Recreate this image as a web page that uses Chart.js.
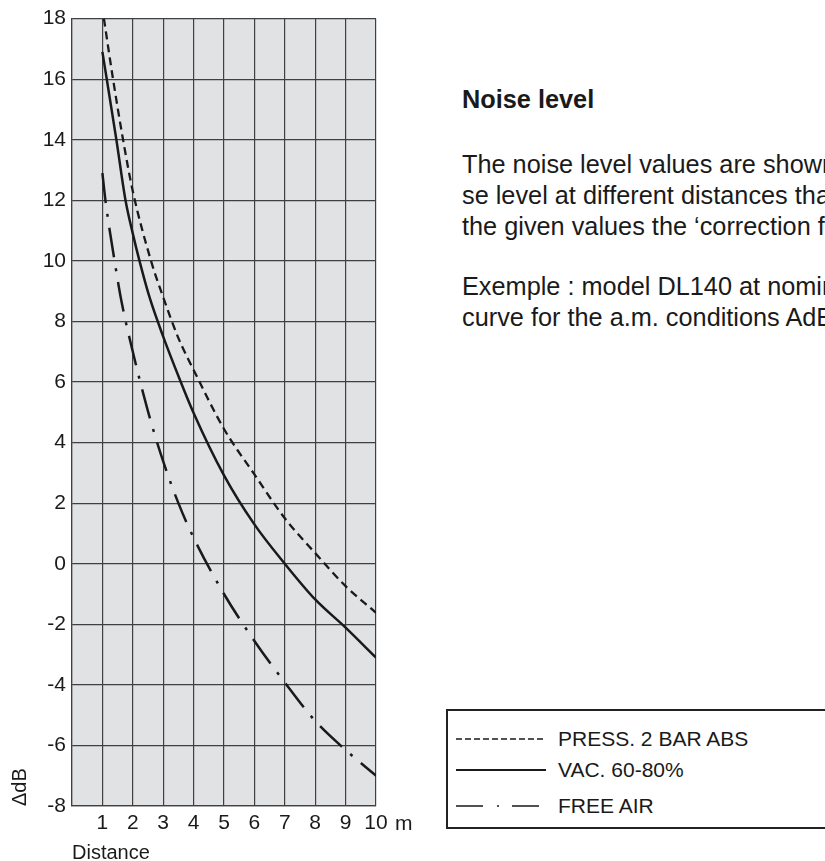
<!DOCTYPE html>
<html>
<head>
<meta charset="utf-8">
<script src="https://cdn.jsdelivr.net/npm/chart.js@4.4.1/dist/chart.umd.min.js"></script>
<style>
  html, body { margin: 0; padding: 0; background: #fff; width: 825px; height: 861px; overflow: hidden; }
  body { position: relative; font-family: 'Liberation Sans', Arial, sans-serif; color: #1a1a1a; }
  #chart { position: absolute; left: 0; top: 0; }
  .txt { position: absolute; left: 462px; white-space: nowrap; font-size: 25.3px; }
  #title { top: 84px; font-weight: bold; line-height: 30px; }
  .para { line-height: 31px; }
  #legend { position: absolute; left: 446px; top: 709px; width: 420px; height: 116px; border: 2px solid #222; }
  .row { position: absolute; left: 8px; height: 20px; }
  .row svg { position: absolute; left: 0; top: 0; }
  .row span { position: absolute; left: 102px; top: -3px; font-size: 21px; white-space: nowrap; line-height: 26px; }
</style>
</head>
<body>
<canvas id="chart" width="430" height="861"></canvas>
<div id="title" class="txt">Noise level</div>
<div class="txt para" style="top:149px">The noise level values are shown at 1 m distance. To find the noi-<br>se level at different distances than 1 m, add to<br>the given values the ‘correction factor’ read on the curves.</div>
<div class="txt para" style="top:271px">Exemple : model DL140 at nominal flow, distance 5 m:<br>curve for the a.m. conditions AdB = 2.9 dB</div>
<div id="legend"></div>
<script>
// values (distance in m, correction in dB)
const distPress = [1.05, 1.35, 1.68, 2, 2.6, 3, 3.5, 4, 5, 6, 7, 8, 9, 10];
const dbPress = [18, 16, 14, 12.3, 10, 8.8, 7.45, 6.4, 4.45, 2.95, 1.5, 0.35, -0.74, -1.62];

const distVac = [1, 1.46, 1.76, 2, 2.22, 2.55, 3, 3.5, 4, 5, 6, 7, 8, 9, 10];
const dbVac = [16.9, 14, 12, 10.9, 10, 8.8, 7.5, 6.2, 4.98, 2.92, 1.3, 0, -1.18, -2.11, -3.1];

const distAir = [1, 1.1, 1.4, 1.63, 2, 2.5, 3, 3.5, 4, 5, 6, 7, 8, 9, 10];
const dbAir = [12.9, 12, 10, 8.65, 7.0, 5.03, 3.38, 2.0, 0.86, -1.0, -2.55, -3.92, -5.19, -6.15, -7.0];

const seriesLabels = ['PRESS. 2 BAR ABS', 'VAC. 60-80%', 'FREE AIR'];
const yMin = -8, yMax = 18, yStep = 2;
const xMin = 0, xMax = 10, xStep = 1;

const FONT = "'Liberation Sans', Arial, sans-serif";
const ink = '#1a1a1a';
const gridColor = '#404040';

function pts(xs, ys) {
  return xs.map((x, i) => ({ x: x, y: ys[i] }));
}

const plotBg = {
  id: 'plotBg',
  beforeDraw(chart) {
    const a = chart.chartArea;
    const ctx = chart.ctx;
    ctx.save();
    ctx.fillStyle = '#e1e2e4';
    ctx.fillRect(a.left, a.top, a.right - a.left, a.bottom - a.top);
    ctx.restore();
  },
  afterDraw(chart) {
    // unit after the last distance tick
    const ctx = chart.ctx;
    const xs = chart.scales.x;
    ctx.save();
    ctx.font = '21px ' + FONT;
    ctx.fillStyle = ink;
    ctx.textBaseline = 'alphabetic';
    ctx.fillText('m', xs.getPixelForValue(xMax) + 19, chart.chartArea.bottom + 23.5);
    ctx.restore();
  }
};

const chart = new Chart(document.getElementById('chart'), {
  type: 'scatter',
  data: {
    datasets: [
      {
        label: seriesLabels[0],
        data: pts(distPress, dbPress),
        borderColor: ink,
        borderWidth: 2.3,
        borderDash: [8, 5],
        legendDash: '6 3'
      },
      {
        label: seriesLabels[1],
        data: pts(distVac, dbVac),
        borderColor: ink,
        borderWidth: 2.5,
        borderDash: [],
        legendDash: ''
      },
      {
        label: seriesLabels[2],
        data: pts(distAir, dbAir),
        borderColor: ink,
        borderWidth: 2.5,
        borderDash: [30, 11, 3, 11],
        legendDash: '27 14 2 13'
      }
    ].map(d => Object.assign(d, {
      showLine: true,
      pointRadius: 0,
      cubicInterpolationMode: 'monotone',
      fill: false
    }))
  },
  options: {
    responsive: false,
    animation: false,
    devicePixelRatio: 1,
    layout: { padding: { top: 16, right: 54, left: 0, bottom: 0 } },
    plugins: { legend: { display: false }, tooltip: { enabled: false } },
    scales: {
      x: {
        type: 'linear',
        min: xMin,
        max: xMax,
        afterFit: (s) => { s.height = 55; },
        ticks: {
          stepSize: xStep,
          padding: 5,
          color: ink,
          font: { family: FONT, size: 21 },
          maxRotation: 0,
          callback: (v) => (v === 0 ? '' : v)
        },
        grid: { color: gridColor, lineWidth: 1.2, drawTicks: false },
        border: { color: gridColor, width: 1.2 },
        title: {
          display: true,
          text: 'Distance',
          align: 'start',
          color: ink,
          font: { family: FONT, size: 20, lineHeight: 0.8 },
          padding: { top: 0, bottom: 0 }
        }
      },
      y: {
        min: yMin,
        max: yMax,
        afterFit: (s) => { s.width = 72; },
        ticks: {
          stepSize: yStep,
          padding: 6,
          color: ink,
          font: { family: FONT, size: 21 }
        },
        grid: { color: gridColor, lineWidth: 1.2, drawTicks: false },
        border: { color: gridColor, width: 1.2 },
        title: {
          display: true,
          text: 'ΔdB',
          align: 'start',
          color: ink,
          font: { family: FONT, size: 20 },
          padding: { top: 8, bottom: 0 }
        }
      }
    }
  },
  plugins: [plotBg]
});

// legend box built from the datasets
const rowTops = [18, 49, 85];
const legend = document.getElementById('legend');
chart.data.datasets.forEach((ds, i) => {
  const row = document.createElement('div');
  row.className = 'row';
  row.style.top = rowTops[i] + 'px';
  const w = i === 1 ? 1.8 : 1.6;
  row.innerHTML =
    '<svg width="100" height="20"><line x1="0" y1="10" x2="90" y2="10" stroke="' + ink +
    '" stroke-width="' + w + '"' + (ds.legendDash ? ' stroke-dasharray="' + ds.legendDash + '"' : '') +
    '/></svg><span>' + ds.label + '</span>';
  legend.appendChild(row);
});
</script>
</body>
</html>
